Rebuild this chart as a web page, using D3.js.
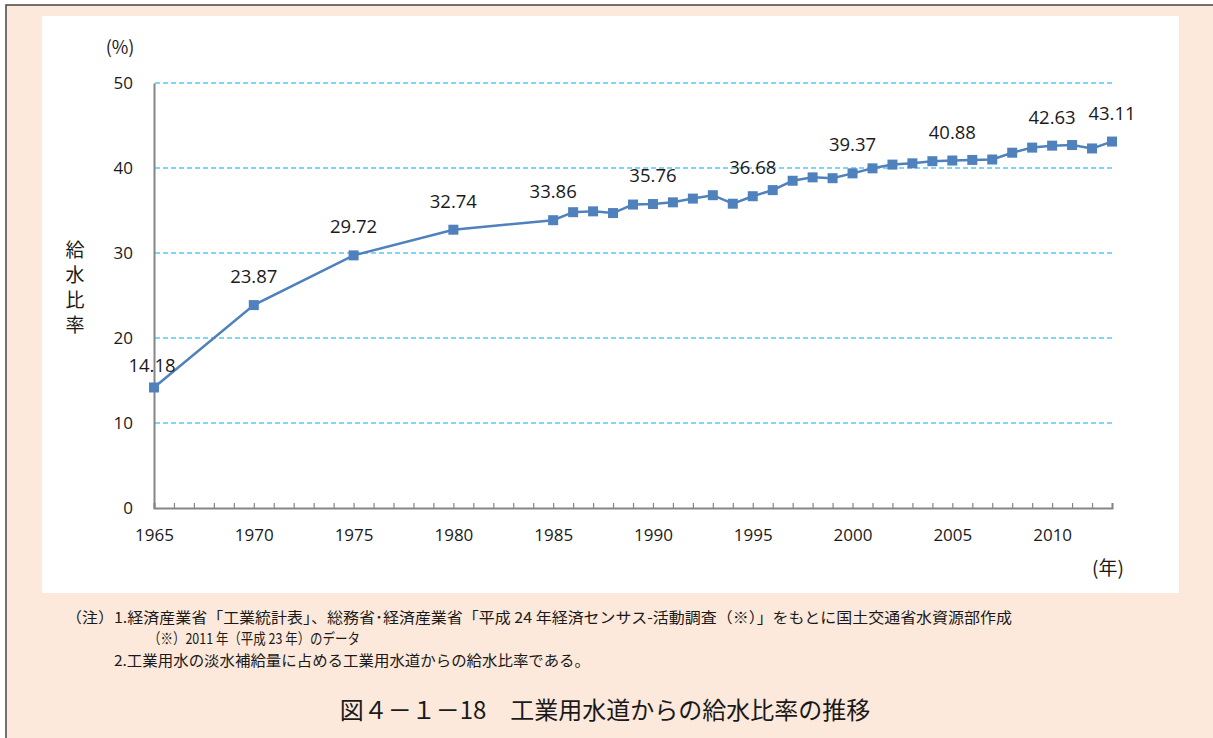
<!DOCTYPE html>
<html>
<head>
<meta charset="utf-8">
<script src="https://cdn.jsdelivr.net/npm/d3@7"></script>
<style>
  html, body { margin: 0; padding: 0; background: #fff; }
  svg { display: block; }
  text { font-family: "Open Sans", "Noto Sans CJK JP", sans-serif; fill: #1a1a1a; }
  .jp { font-family: "Noto Sans CJK JP", sans-serif; }
</style>
</head>
<body>
<svg id="chart" width="1213" height="738"></svg>
<script>
// data
const years = [1965, 1970, 1975, 1980, 1985, 1986, 1987, 1988, 1989, 1990,
    1991, 1992, 1993, 1994, 1995, 1996, 1997, 1998, 1999, 2000,
    2001, 2002, 2003, 2004, 2005, 2006, 2007, 2008, 2009, 2010,
    2011, 2012, 2013];
const ratios = [14.18, 23.87, 29.72, 32.74, 33.86, 34.8, 34.9, 34.7, 35.7, 35.76,
    35.96, 36.4, 36.8, 35.8, 36.68, 37.4, 38.5, 38.9, 38.8, 39.37,
    39.96, 40.4, 40.55, 40.8, 40.88, 40.95, 41.0, 41.8, 42.4, 42.63,
    42.7, 42.3, 43.11];
const labelYears = [1965, 1970, 1975, 1980, 1985, 1990, 1995, 2000, 2005, 2010, 2013];
const yTicks = [0, 10, 20, 30, 40, 50];
const xTickLabels = [1965, 1970, 1975, 1980, 1985, 1990, 1995, 2000, 2005, 2010];
const notes = [
    "（注）1.経済産業省「工業統計表」、総務省･経済産業省「平成 24 年経済センサス-活動調査（※）」をもとに国土交通省水資源部作成",
    "（※）2011 年（平成 23 年）のデータ",
    "2.工業用水の淡水補給量に占める工業用水道からの給水比率である。"
];
const title = "図４－１－18　工業用水道からの給水比率の推移";

const svg = d3.select("#chart");

// frame
svg.append("rect").attr("x", 6).attr("y", 5).attr("width", 1213).attr("height", 740)
    .attr("fill", "#fce9db").attr("stroke", "#444").attr("stroke-width", 1.5);
svg.append("rect").attr("x", 42).attr("y", 16).attr("width", 1137).attr("height", 577)
    .attr("fill", "#fff");

const data = years.map((y, i) => ({ year: y, value: ratios[i] }));

const xScale = d3.scaleLinear().domain([1965, 2013]).range([154, 1112]);
const yScale = d3.scaleLinear().domain([0, 50]).range([508, 83]);

// grid lines
svg.append("g")
    .selectAll("line")
    .data(yTicks.filter(d => d > 0))
    .join("line")
    .attr("x1", 155).attr("x2", 1112)
    .attr("y1", d => yScale(d)).attr("y2", d => yScale(d))
    .attr("stroke", "#00b0f0")
    .attr("stroke-width", 1.2)
    .attr("stroke-dasharray", "5,3");

// y axis
const yAxis = d3.axisLeft(yScale).tickValues(yTicks).tickSize(0).tickPadding(21);
const gy = svg.append("g").attr("transform", "translate(154,0)").call(yAxis);
gy.select(".domain").attr("stroke", "#868686").attr("stroke-width", 2);
gy.selectAll("text").attr("font-size", "17px").attr("fill", "#1a1a1a")
    .style("font-family", "'Open Sans', sans-serif");

// x axis
const xAxis = d3.axisBottom(xScale)
    .tickValues(d3.range(1965, 2014))
    .tickSize(-5)
    .tickFormat(d => xTickLabels.includes(d) ? d : "")
    .tickPadding(21);
const gx = svg.append("g").attr("transform", "translate(0,508)").call(xAxis);
gx.select(".domain").attr("stroke", "#868686").attr("stroke-width", 2);
gx.selectAll(".tick line").attr("stroke", "#868686").attr("stroke-width", 1.2);
gx.selectAll("text").attr("font-size", "17px").attr("fill", "#1a1a1a")
    .style("font-family", "'Open Sans', sans-serif");

// line and markers
const lineGen = d3.line()
    .x(d => xScale(d.year))
    .y(d => yScale(d.value));

svg.append("path")
    .datum(data)
    .attr("fill", "none")
    .attr("stroke", "#4f81bd")
    .attr("stroke-width", 2.5)
    .attr("d", lineGen);

svg.append("g")
    .selectAll("rect")
    .data(data)
    .join("rect")
    .attr("x", d => xScale(d.year) - 5)
    .attr("y", d => yScale(d.value) - 5)
    .attr("width", 10)
    .attr("height", 10)
    .attr("fill", "#4f81bd");

// data labels
svg.append("g")
    .selectAll("text")
    .data(data.filter(d => labelYears.includes(d.year)))
    .join("text")
    .attr("x", d => xScale(d.year) - (d.year === 1965 ? 2 : 0))
    .attr("y", d => yScale(d.value) - (d.year === 1965 ? 15 : 22))
    .attr("text-anchor", "middle")
    .attr("font-size", "18.5px")
    .text(d => d.value.toFixed(2));

// axis titles
svg.append("text").attr("class", "jp")
    .attr("x", 120).attr("y", 54)
    .attr("text-anchor", "middle")
    .attr("font-size", "18px")
    .text("(%)");

svg.append("g")
    .selectAll("text")
    .data(["給", "水", "比", "率"])
    .join("text")
    .attr("class", "jp")
    .attr("x", 75)
    .attr("y", (d, i) => 257 + i * 25)
    .attr("text-anchor", "middle")
    .attr("font-size", "19px")
    .text(d => d);

svg.append("text").attr("class", "jp")
    .attr("x", 1108).attr("y", 575)
    .attr("text-anchor", "middle")
    .attr("font-size", "19px")
    .text("(年)");

// notes
const noteX = [66, 148, 114];
const noteY = [623, 644, 666];
const noteW = [946, 212, 476];
svg.append("g")
    .selectAll("text")
    .data(notes)
    .join("text")
    .attr("class", "jp")
    .attr("x", (d, i) => noteX[i])
    .attr("y", (d, i) => noteY[i])
    .attr("font-size", "15px")
    .attr("textLength", (d, i) => noteW[i])
    .attr("lengthAdjust", "spacingAndGlyphs")
    .text(d => d);

svg.append("text").attr("class", "jp")
    .attr("x", 605).attr("y", 719)
    .attr("text-anchor", "middle")
    .attr("font-size", "24px")
    .text(title);
</script>
</body>
</html>
